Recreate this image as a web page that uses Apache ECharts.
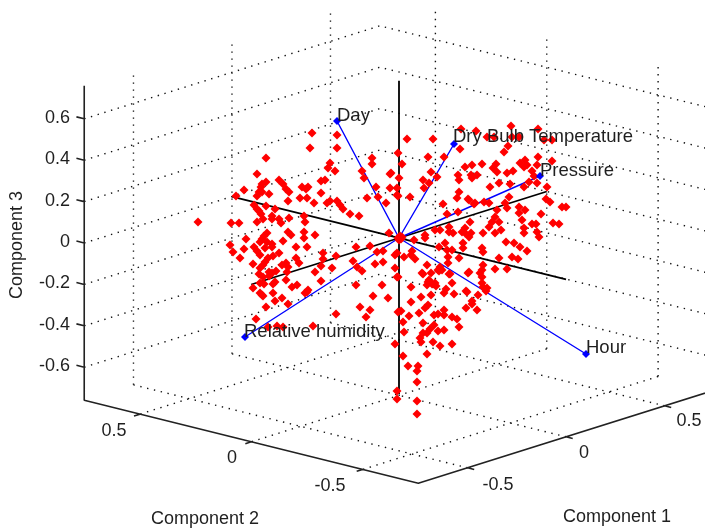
<!DOCTYPE html>
<html><head><meta charset="utf-8">
<style>html,body{margin:0;padding:0;background:#fff}#c{width:705px;height:530px}</style>
<script src="https://cdn.jsdelivr.net/npm/echarts@6/dist/echarts.min.js"></script>
</head><body><div id="c"></div>
<script>
// tick values of the three components
const ticksComponent1 = [-0.5, 0, 0.5];
const ticksComponent2 = [0.5, 0, -0.5];
const ticksComponent3 = [0.6, 0.4, 0.2, 0, -0.2, -0.4, -0.6];
const axisLimit = 0.75, axisLimitZ = 0.76;
const axisNames = ['Component 1', 'Component 2', 'Component 3'];
// variable names and their loading tips read in the projected picture plane
const variables = ['Day', 'Dry Bulb Temperature', 'Pressure', 'Hour', 'Relative humidity'];
const loadingTips = [[337,121],[454,144],[540,176],[586,354],[245,337]];
// observation scores read in the projected picture plane
const scores = [
[312,133],[337,135],[310,148],[337,148],[266,158],[372,158],[372,164],[330,163],[328,168],[335,171],[362,171],[257,174],[390,174],[364,178],
[279,180],[325,180],[321,181],[266,182],[262,184],[261,187],[283,184],[286,189],[289,192],[302,187],[306,189],[308,187],[244,190],[259,192],
[262,192],[269,194],[257,196],[236,196],[321,193],[376,187],[390,188],[397,188],[397,195],[378,197],[367,198],[386,203],[300,198],[307,198],
[288,201],[314,203],[327,203],[330,201],[337,201],[340,205],[343,209],[254,205],[257,209],[259,211],[261,214],[266,206],[275,209],[350,214],
[359,216],[272,216],[272,219],[289,218],[279,219],[281,223],[304,216],[305,222],[257,222],[263,219],[198,222],[231,223],[239,223],[288,232],
[291,235],[304,232],[304,238],[315,235],[389,233],[267,233],[264,236],[262,239],[246,239],[283,241],[260,242],[267,242],[272,244],[272,247],
[230,245],[254,247],[257,251],[260,255],[265,248],[244,249],[233,252],[240,258],[296,247],[307,247],[296,258],[323,253],[323,259],[336,256],
[356,247],[370,246],[377,252],[383,251],[397,253],[279,253],[273,256],[268,258],[265,262],[263,265],[260,268],[253,264],[299,263],[286,263],
[288,267],[282,265],[287,272],[276,271],[272,273],[269,272],[259,274],[263,277],[269,276],[315,272],[321,266],[332,268],[353,261],[357,267],
[362,271],[375,264],[383,262],[395,268],[397,277],[275,282],[273,284],[286,280],[297,285],[292,287],[321,281],[356,285],[382,285],[260,283],
[264,284],[253,288],[273,293],[260,293],[263,296],[308,290],[305,293],[373,296],[388,298],[275,301],[282,298],[288,304],[266,307],[360,307],
[370,310],[366,317],[336,314],[256,319],[398,312],[262,295],[307,292],[277,326],[283,327],[313,326],[268,327],
[461,129],[476,131],[511,126],[538,129],[487,137],[494,137],[519,137],[512,137],[544,140],[552,140],[407,139],[433,139],[460,149],[504,152],
[508,146],[398,153],[428,157],[444,157],[402,164],[538,157],[552,161],[520,163],[525,160],[527,165],[524,167],[537,165],[465,167],[472,165],
[482,164],[496,164],[493,168],[497,172],[458,175],[459,180],[471,175],[472,178],[477,175],[507,173],[513,171],[532,171],[534,176],[391,173],
[431,172],[437,177],[399,178],[423,180],[429,183],[499,183],[510,184],[490,187],[524,187],[529,182],[537,183],[424,188],[459,192],[457,198],
[398,196],[410,197],[509,197],[469,200],[547,187],[546,199],[550,202],[562,207],[566,207],[443,204],[484,202],[474,204],[489,203],[505,203],
[507,208],[519,207],[525,210],[519,213],[447,214],[458,212],[470,222],[541,214],[497,210],[495,217],[492,222],[499,222],[489,227],[495,233],
[501,230],[524,228],[524,233],[522,220],[553,223],[559,224],[532,224],[536,224],[537,232],[539,237],[483,233],[469,237],[471,233],[465,228],
[465,233],[449,227],[435,230],[440,230],[425,235],[425,238],[449,232],[414,240],[453,233],[462,232],[506,242],[514,243],[520,247],[527,251],
[512,257],[518,259],[499,258],[482,248],[483,252],[463,243],[463,248],[459,258],[445,243],[452,250],[447,250],[439,247],[468,199],[475,203],
[395,255],[404,257],[412,251],[411,255],[415,259],[427,265],[483,265],[482,270],[480,273],[495,269],[507,269],[469,272],[449,274],[438,270],
[442,270],[440,267],[422,273],[431,273],[452,283],[429,280],[427,285],[435,283],[411,287],[467,292],[444,293],[431,295],[421,297],[478,295],
[482,283],[483,287],[487,288],[486,291],[448,257],[448,263],[398,277],[423,274],[439,271],[450,274],[468,273],[482,277],[428,282],[432,284],
[436,286],[446,289],[454,294],[466,291],[411,302],[472,301],[472,304],[466,308],[477,310],[401,311],[428,305],[425,308],[419,313],[409,316],
[444,310],[403,322],[423,323],[434,315],[438,314],[444,315],[452,317],[457,319],[434,325],[459,327],[444,330],[438,331],[430,329],[427,333],
[423,333],[420,338],[404,332],[421,342],[433,342],[452,344],[440,346],[395,344],[403,356],[427,354],[408,366],[418,366],[417,371],[417,382],
[397,391],[397,399],[417,401],[417,414],[398,238],[400,236],[402,237],[399,240],[401,239]
];

// orthographic view of the box
const view = {ox:399, oy:238, c1:[197,-62], c2:[-222.7,-55.3], c3:[0,-207]};
function project(a,b,c){
  return [view.ox + a*view.c1[0] + b*view.c2[0] + c*view.c3[0],
          view.oy + a*view.c1[1] + b*view.c2[1] + c*view.c3[1]];
}
const L = axisLimit, Z = axisLimitZ, gap = [null,null];
const dotted = [], solid = [], zeroAxes = [];
ticksComponent3.forEach(z=>{ dotted.push(project(-L,L,z),project(L,L,z),project(L,-L,z),gap); });
ticksComponent1.forEach(a=>{
  dotted.push(project(a,L,-Z),project(a,L,Z),gap);
  dotted.push(project(a,L,-Z),project(a,-L,-Z),gap);
});
ticksComponent2.forEach(b=>{
  dotted.push(project(L,b,-Z),project(L,b,Z),gap);
  dotted.push(project(L,b,-Z),project(-L,b,-Z),gap);
});
solid.push(project(-L,L,Z),project(-L,L,-Z),project(-L,-L,-Z),project(L,-L,-Z),gap);
ticksComponent3.forEach(z=>{ solid.push(project(-L,L,z),project(-L,L+0.035,z),gap); });
ticksComponent2.forEach(b=>{ solid.push(project(-L,b,-Z),project(-L-0.03,b,-Z),gap); });
ticksComponent1.forEach(a=>{ solid.push(project(a,-L,-Z),project(a,-L-0.03,-Z),gap); });
zeroAxes.push(project(-L,0,0),project(L,0,0),gap,project(0,-L,0),project(0,L,0),gap,project(0,0,-Z+0.005),project(0,0,Z),gap);

const origin = project(0,0,0);
const blue = [];
loadingTips.forEach(t=>blue.push(origin,t,gap));

const fontBase = {fontFamily:'"Liberation Sans", Arial, sans-serif', color:'#1f1f1f', opacity:1};
const texts = [];
function addText(text, pos, size, align, rotate){ texts.push({value:pos, label:{show:true, position:'inside', formatter:text, align:align||'center', verticalAlign:'middle', rotate:rotate||0, fontSize:size, ...fontBase}}); }
ticksComponent3.forEach(z=>{ const p = project(-L,L,z); addText(String(z), [70, p[1]-1], 18, 'right'); });
const labelsC2 = [[114,431],[232,458],[330,486]];
ticksComponent2.forEach((b,i)=>addText(String(b), labelsC2[i], 18));
const labelsC1 = [[498,485],[584,453],[689,421]];
ticksComponent1.forEach((a,i)=>addText(String(a), labelsC1[i], 18));
addText(axisNames[0],[617,517],18);
addText(axisNames[1],[205,519],18);
addText(axisNames[2],[17,245],18,'center',90);
const varLabelPos = [[337,116],[453,137],[540,171],[586,348],[244,332]];
variables.forEach((v,i)=>addText(v,varLabelPos[i],18.5,'left'));

const chart = echarts.init(document.getElementById('c'),null,{renderer:'canvas'});
const lineBase = {type:'line', showSymbol:false, symbol:'none', silent:true, connectNulls:false, animation:false};
chart.setOption({
  animation:false, backgroundColor:'#fff',
  grid:{left:0,right:0,top:0,bottom:0},
  xAxis:{type:'value',min:0,max:705,show:false},
  yAxis:{type:'value',min:0,max:530,inverse:true,show:false},
  series:[
    {...lineBase,data:dotted,lineStyle:{color:'#111',width:1.4,type:[1.4,5.6]},z:1},
    {...lineBase,data:solid,lineStyle:{color:'#222',width:1.6},z:2},
    {...lineBase,data:zeroAxes,lineStyle:{color:'#000',width:1.8},z:3},
    {...lineBase,data:blue,lineStyle:{color:'#0000ff',width:1.4},z:4},
    {type:'scatter',data:scores,symbol:'diamond',symbolSize:9,itemStyle:{color:'#ff0000',opacity:1},silent:true,z:5},
    {type:'scatter',data:loadingTips,symbol:'diamond',symbolSize:8,itemStyle:{color:'#0000ff',opacity:1},silent:true,z:6},
    {type:'scatter',data:texts,symbolSize:0,itemStyle:{opacity:1},silent:true,z:7}
  ]
});
</script></body></html>
